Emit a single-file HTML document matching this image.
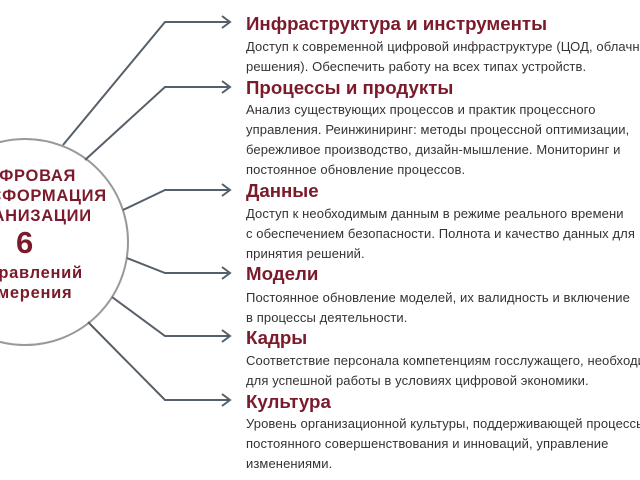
<!DOCTYPE html><html><head><meta charset="utf-8"><style>
html,body{margin:0;width:640px;height:480px;overflow:hidden}
body{background:#fff;position:relative;font-family:"Liberation Sans",sans-serif}
.w{position:absolute;left:0;top:0;width:640px;height:480px;overflow:hidden}
.t{position:absolute;left:246px;color:#7b1a2b;font-weight:bold;font-size:18.7px;white-space:nowrap;line-height:20px}
.b{position:absolute;left:246px;color:#333;font-size:13px;line-height:20px;white-space:nowrap;letter-spacing:0.1px}
.c{position:absolute;left:-80px;width:210px;text-align:center;color:#7b1a2b;font-weight:bold;font-size:16.5px;line-height:20px;letter-spacing:0.7px}
</style></head><body><div class="w">
<svg width="640" height="480" style="position:absolute;left:0;top:0">
<circle cx="25" cy="242" r="103" fill="#fff" stroke="#999" stroke-width="2"/>
<g fill="none" stroke="#56606a" stroke-width="2">
<polyline points="63,145 165,22 230,22"/><polyline points="85,160 165,87 230,87"/>
<polyline points="123,210 165,190 230,190"/><polyline points="127,258 165,273 230,273"/>
<polyline points="112,297 165,336 230,336"/><polyline points="88,322 165,400 230,400"/>
<path d="M222,16 L230,22 L222,28 M222,81 L230,87 L222,93 M222,184 L230,190 L222,196 M222,267 L230,273 L222,279 M222,330 L230,336 L222,342 M222,394 L230,400 L222,406"/>
</g></svg>
<div class="c" style="top:166px">ЦИФРОВАЯ<br>ТРАНСФОРМАЦИЯ<br>ОРГАНИЗАЦИИ</div>
<div class="c" style="top:226px;font-size:31px;line-height:34px">6</div>
<div class="c" style="top:263px">направлений<br>измерения</div>
<div class="t" style="top:14px">Инфраструктура и инструменты</div>
<div class="b" style="top:37px">Доступ к современной цифровой инфраструктуре (ЦОД, облачные<br>решения). Обеспечить работу на всех типах устройств.</div>
<div class="t" style="top:78px">Процессы и продукты</div>
<div class="b" style="top:100px">Анализ существующих процессов и практик процессного<br>управления. Реинжиниринг: методы процессной оптимизации,<br>бережливое производство, дизайн-мышление. Мониторинг и<br>постоянное обновление процессов.</div>
<div class="t" style="top:181px">Данные</div>
<div class="b" style="top:204px">Доступ к необходимым данным в режиме реального времени<br>с обеспечением безопасности. Полнота и качество данных для<br>принятия решений.</div>
<div class="t" style="top:264px">Модели</div>
<div class="b" style="top:288px">Постоянное обновление моделей, их валидность и включение<br>в процессы деятельности.</div>
<div class="t" style="top:328px">Кадры</div>
<div class="b" style="top:351px">Соответствие персонала компетенциям госслужащего, необходимым<br>для успешной работы в условиях цифровой экономики.</div>
<div class="t" style="top:392px">Культура</div>
<div class="b" style="top:414px">Уровень организационной культуры, поддерживающей процессы<br>постоянного совершенствования и инноваций, управление<br>изменениями.</div>
</div></body></html>
